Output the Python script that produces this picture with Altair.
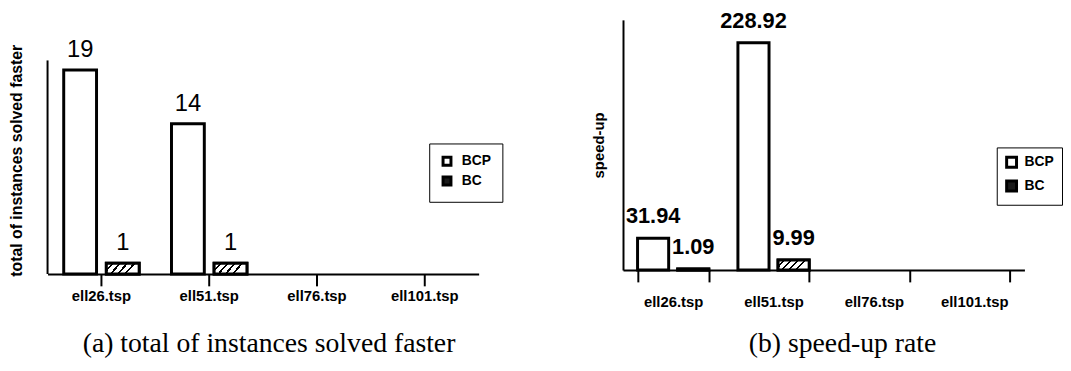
import altair as alt
import pandas as pd

# ---- data ----
categories = ["ell26.tsp", "ell51.tsp", "ell76.tsp", "ell101.tsp"]
series = ["BCP", "BC"]

faster_cats = ["ell26.tsp", "ell26.tsp", "ell51.tsp", "ell51.tsp"]
faster_series = ["BCP", "BC", "BCP", "BC"]
faster_values = [19, 1, 14, 1]

speed_cats = ["ell26.tsp", "ell26.tsp", "ell51.tsp", "ell51.tsp"]
speed_series = ["BCP", "BC", "BCP", "BC"]
speed_values = [31.94, 1.09, 228.92, 9.99]

left_axis_top = [19.9]

df_a = pd.DataFrame({"cat": faster_cats, "series": faster_series, "value": faster_values})
df_b = pd.DataFrame({"cat": speed_cats, "series": speed_series, "value": speed_values})
df_rule = pd.DataFrame({"lo": [0], "hi": left_axis_top})

FONT = "Liberation Sans"

stops = [{"offset": 0, "color": "white"}]
for s in [0.16, 0.36, 0.56, 0.76]:
    stops += [
        {"offset": s, "color": "white"},
        {"offset": s, "color": "black"},
        {"offset": s + 0.06, "color": "black"},
        {"offset": s + 0.06, "color": "white"},
    ]
stops.append({"offset": 1, "color": "white"})
hatch = {"gradient": "linear", "x1": 0, "y1": 0, "x2": 1, "y2": 0.3, "stops": stops}


def panel(df, ydomain, width, height, xaxis, yaxis, legend, label_fmt, label_size,
          label_weight, label_dy, band_pi, band_po, off_pi, title, extra=()):
    x = alt.X("cat:N", scale=alt.Scale(domain=categories, paddingInner=band_pi,
                                       paddingOuter=band_po), axis=xaxis)
    xo = alt.XOffset("series:N", scale=alt.Scale(domain=series, paddingInner=off_pi,
                                                 paddingOuter=0))
    y = alt.Y("value:Q", scale=alt.Scale(domain=ydomain, nice=False, zero=True), axis=yaxis)
    bars = alt.Chart(df).mark_bar(stroke="black", strokeWidth=3).encode(
        x=x, xOffset=xo, y=y,
        fill=alt.Fill("series:N", scale=alt.Scale(domain=series, range=["white", "#1a1a1a"]),
                      legend=legend),
    )
    hatched = alt.Chart(df).transform_filter(alt.datum.series == "BC").mark_bar(
        stroke="black", strokeWidth=3, fill=hatch
    ).encode(x=x, xOffset=xo, y=y)
    labels = alt.Chart(df).mark_text(baseline="alphabetic", dy=label_dy, font=FONT,
                                     fontSize=label_size, fontWeight=label_weight,
                                     color="black").encode(
        x=x, xOffset=xo, y=y, text=alt.Text("value:Q", format=label_fmt)
    )
    return alt.layer(bars, hatched, labels, *extra).properties(
        width=width, height=height, title=title)


legend_common = dict(title=None, orient="none", direction="vertical", strokeColor="black",
                     fillColor="white", symbolType="square", symbolStrokeColor="black",
                     symbolStrokeWidth=3, labelFont=FONT, labelFontWeight="bold",
                     labelColor="black")

rule = alt.Chart(df_rule).mark_rule(color="black", strokeWidth=2).encode(
    x=alt.value(0), y=alt.Y("lo:Q"), y2="hi:Q")

left_xaxis = alt.Axis(title=None, labelAngle=0, tickSize=12, labelPadding=3)
left_yaxis = alt.Axis(domain=False, ticks=False, labels=False, grid=False,
                      title="total of instances solved faster", titleFont=FONT,
                      titleFontSize=16, titleFontWeight="bold", titleColor="black",
                      titlePadding=23, titleY=142)
left_legend = alt.Legend(legendX=386, legendY=125, padding=11, symbolSize=64,
                         labelFontSize=14, labelOffset=8, rowPadding=0, **legend_common)
left = panel(df_a, [0, 23.68], 436, 257, left_xaxis, left_yaxis, left_legend, "d", 24,
             "normal", -13, 0.30, 0.15, 0.23,
             alt.TitleParams(text="(a) total of instances solved faster", orient="bottom",
                             font="Liberation Serif", fontSize=28, fontWeight="normal",
                             color="black", offset=27, dx=6, anchor="middle"),
             extra=(rule,))

right_xaxis = alt.Axis(title=None, labelAngle=0, tickSize=12, labelPadding=13, tickBand="extent")
right_yaxis = alt.Axis(domain=True, ticks=False, labels=False, grid=False, title="speed-up",
                       titleFont=FONT, titleFontSize=15, titleFontWeight="bold",
                       titleColor="black", titlePadding=17)
right_legend = alt.Legend(legendX=378, legendY=129, padding=8, symbolSize=100,
                          labelFontSize=14, labelOffset=6, rowPadding=2, **legend_common)
right = panel(df_b, [0, 252], 406, 253, right_xaxis, right_yaxis, right_legend, ".2f", 22,
              "bold", -15, 0.29, 0.145, 0.225,
              alt.TitleParams(text="(b) speed-up rate", orient="bottom",
                              font="Liberation Serif", fontSize=28, fontWeight="normal",
                              color="black", offset=21, dx=19, anchor="middle"))

chart = alt.hconcat(left, right, spacing=146, bounds="flush").resolve_scale(
    fill="independent", y="independent", x="independent", xOffset="independent"
).resolve_legend(fill="independent").properties(
    padding={"left": 0, "top": 0, "right": 0, "bottom": 0}, background="white"
).configure_view(stroke=None).configure_axis(
    domainColor="black", domainWidth=2, tickColor="black", tickWidth=2,
    labelColor="black", labelFont=FONT, labelFontSize=15, labelFontWeight="bold", grid=False
)

chart.save("out.html", embed_options={"renderer": "svg", "actions": False})
